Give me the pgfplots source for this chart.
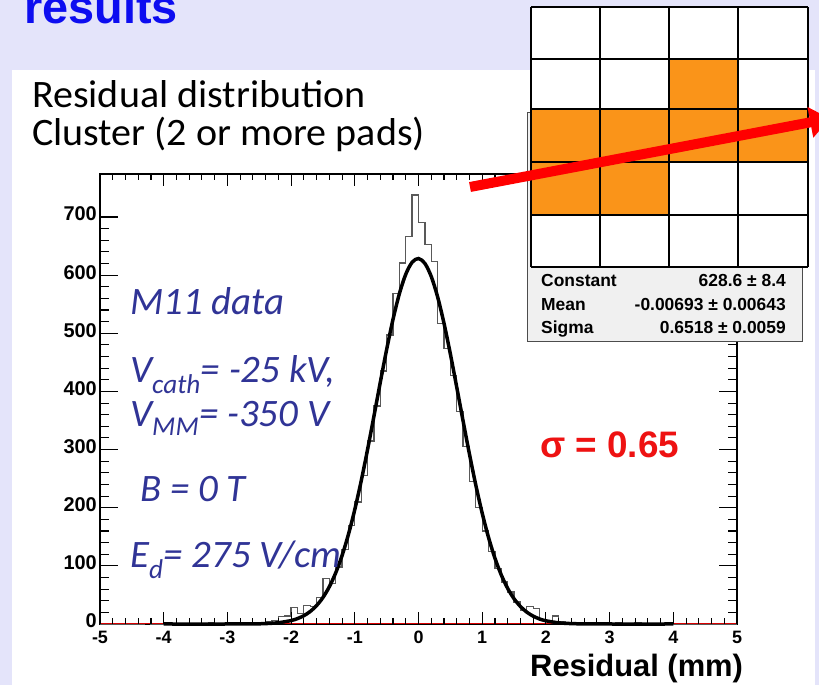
\documentclass[border=0pt]{standalone}
\usepackage{pgfplots}
\pgfplotsset{compat=1.18}
\usepackage{fontspec}
\setmainfont{Liberation Sans}
\newfontfamily\calibri{Carlito}
\usetikzlibrary{arrows.meta}
\definecolor{bgl}{RGB}{228,228,250}
\definecolor{tblue}{RGB}{13,13,240}
\definecolor{annb}{RGB}{48,52,150}
\definecolor{padorange}{RGB}{250,148,25}
\definecolor{sred}{RGB}{238,18,18}
\definecolor{statbg}{RGB}{240,240,240}
\begin{document}
\begin{tikzpicture}[x=1bp,y=1bp]
\path[use as bounding box, clip] (0,0) rectangle (819,685);
\fill[bgl] (0,0) rectangle (819,685);
\fill[white] (12,0) rectangle (815,615);
\coordinate (axorig) at (100,61);
\node[anchor=base west, inner sep=0, text=tblue, font=\fontsize{47}{47}\selectfont\bfseries] at (24,661) {results};
\node[anchor=base west, inner sep=0, font=\calibri\fontsize{39}{39}\selectfont] at (32,577) {\scalebox{1.03}[1]{Residual distribution}};
\node[anchor=base west, inner sep=0, font=\calibri\fontsize{39}{39}\selectfont] at (32,539) {\scalebox{1.03}[1]{Cluster (2 or more pads)}};

\begin{axis}[at={(axorig)}, anchor=south west, scale only axis,
  width=637bp, height=450bp, xmin=-5, xmax=5, ymin=0, ymax=774,
  clip=false,
  axis line style={line width=1.2bp},
  xtick=\empty,
  ytick={0,100,...,700}, yticklabels={0,100,200,300,400,500,600,700},
  minor y tick num=4,
  major tick length=18bp, minor tick length=9bp,
  tick style={line width=1.1bp, black},
  yticklabel style={font=\fontsize{20}{20}\selectfont\bfseries, inner sep=3bp, yshift=3bp}]
\addplot[const plot mark left, black!65, line width=1.3bp] coordinates {
(-5,0) (-4.3,1) (-4.2,0) (-3.3,2) (-3.2,0) (-3.0,1) (-2.9,0) (-2.8,2) (-2.7,0)
(-2.6,2) (-2.5,3) (-2.4,4) (-2.3,6) (-2.2,13) (-2.1,14) (-2.0,28) (-1.9,18)
(-1.8,32) (-1.7,30) (-1.6,45) (-1.5,78) (-1.4,70) (-1.3,98) (-1.2,128) (-1.1,170)
(-1.0,210) (-0.9,255) (-0.8,315) (-0.7,375) (-0.6,435) (-0.5,497) (-0.4,569)
(-0.3,621) (-0.2,666) (-0.1,738) (0,690) (0.1,653) (0.2,624) (0.3,517) (0.4,474)
(0.5,428) (0.6,365) (0.7,305) (0.8,245) (0.9,200) (1.0,160) (1.1,125) (1.2,95)
(1.3,72) (1.4,55) (1.5,38) (1.6,24) (1.7,30) (1.8,27) (1.9,7) (2.0,4) (2.1,14)
(2.2,4) (2.3,2) (2.4,2) (2.5,1) (2.6,0) (2.7,2) (2.8,0) (2.9,3) (3.0,0) (3.1,2)
(3.2,0) (3.4,3) (3.5,0) (3.7,1) (3.8,0) (5,0)};
\addplot[red!85!black, line width=1bp] coordinates {(-5,0) (5,0)};
\addplot[black, line width=3.5bp, smooth] coordinates {
(-4,0) (-3,0) (-2.6,0.2) (-2.4,0.7) (-2.2,2.2) (-2.0,5.9) (-1.9,9.3) (-1.8,14.3)
(-1.7,21.5) (-1.6,31.7) (-1.5,45.6) (-1.4,64.1) (-1.3,87.9) (-1.2,117.7)
(-1.1,154.1) (-1.0,197.0) (-0.9,245.9) (-0.8,299.9) (-0.7,357.2) (-0.6,415.6)
(-0.5,472.2) (-0.4,524.1) (-0.3,568.2) (-0.2,601.6) (-0.1,622.2) (0,628.6)
(0.1,620.2) (0.2,597.7) (0.3,562.6) (0.4,517.3) (0.5,464.5) (0.6,407.4)
(0.7,349.1) (0.8,292.1) (0.9,238.7) (1.0,190.6) (1.1,148.6) (1.2,113.2)
(1.3,84.2) (1.4,61.2) (1.5,43.4) (1.6,30.1) (1.7,20.4) (1.8,13.5) (1.9,8.7)
(2.0,5.5) (2.2,2.0) (2.4,0.7) (2.6,0.2) (3,0) (4,0)};
\end{axis}

\begin{axis}[at={(axorig)}, anchor=south west, scale only axis,
  width=637bp, height=450bp, xmin=-5, xmax=5, ymin=0, ymax=774,
  axis line style={draw=none},
  ytick=\empty,
  xtick={-5,-4,...,5}, xticklabels={-5,-4,-3,-2,-1,0,1,2,3,4,5},
  minor x tick num=4,
  major tick length=12bp, minor tick length=6bp,
  tick style={line width=1.1bp, black},
  xticklabel style={font=\fontsize{18}{18}\selectfont\bfseries, inner sep=7bp}]
\end{axis}

% annotations
\begin{scope}[every node/.style={anchor=base west, inner sep=0, text=annb, font=\calibri\itshape\fontsize{39}{39}\selectfont}]
\node at (130,370) {M11 data};
\node at (130,302) {V\textsubscript{cath}= -25 kV,};
\node at (130,258) {V\textsubscript{MM}= -350 V};
\node at (140,183) {B = 0 T};
\node at (130,117) {E\textsubscript{d}= 275 V/cm};
\end{scope}
\node[anchor=base west, inner sep=0, text=sred, font=\fontsize{37}{37}\selectfont\bfseries] at (540,227) {σ = 0.65};
\node[anchor=base west, inner sep=0, font=\fontsize{31}{31}\selectfont\bfseries] at (530,8) {Residual (mm)};

% stats box
\filldraw[fill=statbg, draw=black!70, line width=1bp] (527,343) rectangle (802,572);
\begin{scope}[every node/.style={inner sep=0, font=\fontsize{17.5}{17.5}\selectfont\bfseries}]
\node[anchor=base west] at (541,398) {Constant};
\node[anchor=base east] at (786,398) {628.6 ± 8.4};
\node[anchor=base west] at (541,374) {Mean};
\node[anchor=base east] at (786,374) {-0.00693 ± 0.00643};
\node[anchor=base west] at (541,351) {Sigma};
\node[anchor=base east] at (786,351) {0.6518 ± 0.0059};
\end{scope}

% pad grid
\fill[white] (531,418) rectangle (808,678);
\fill[padorange] (669,576) rectangle (738,626);
\fill[padorange] (531,523) rectangle (808,576);
\fill[padorange] (531,470) rectangle (669,523);
\foreach \xx in {531,600,669,738,808} {\draw[line width=2bp] (\xx,418) -- (\xx,678);}
\foreach \yy in {418,470,523,576,626,678} {\draw[line width=2bp] (531,\yy) -- (808,\yy);}
\draw[red, line width=10bp, -{Triangle[length=20bp,width=30bp]}] (470,498) -- (830,566.4);
\end{tikzpicture}
\end{document}
